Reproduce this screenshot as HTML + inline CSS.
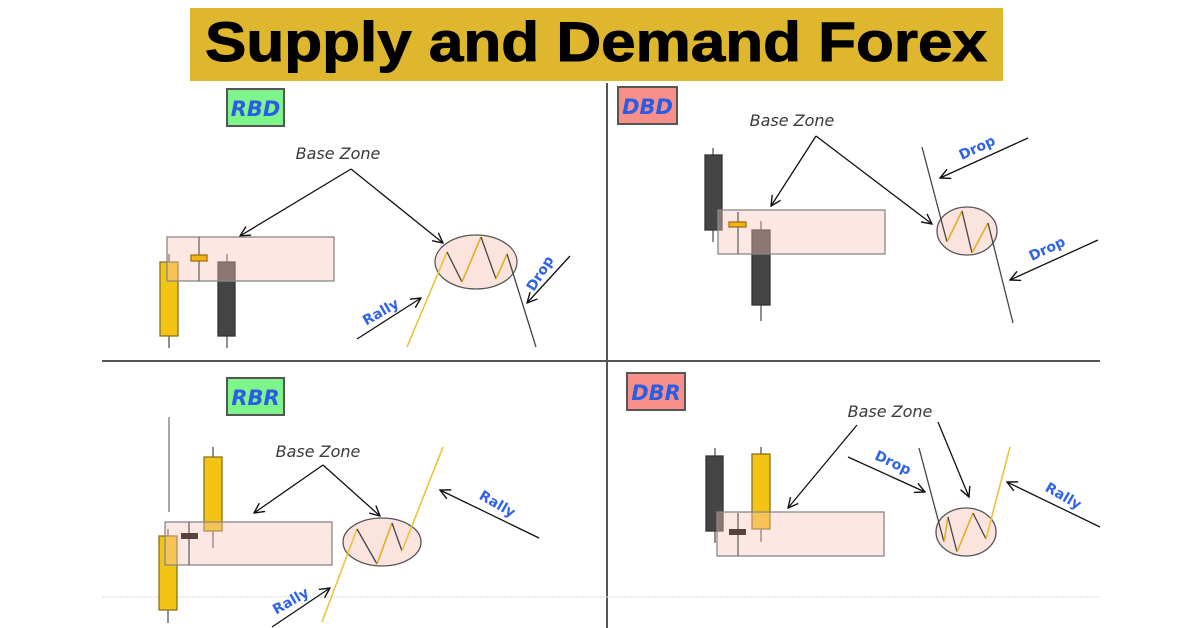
<!DOCTYPE html>
<html><head><meta charset="utf-8"><style>
html,body{margin:0;padding:0;background:#fff;width:1200px;height:628px;overflow:hidden}
svg{display:block}
.bz{font-family:"DejaVu Sans","Liberation Sans",sans-serif;font-style:oblique;font-size:16px;fill:#3a3a3a}
.lb{font-family:"DejaVu Sans","Liberation Sans",sans-serif;font-style:oblique;font-weight:bold;font-size:21px;fill:#2b5ce6}
.bl{font-family:"DejaVu Sans","Liberation Sans",sans-serif;font-weight:bold;font-size:14px;fill:#2f64e8}
</style></head><body>
<svg width="1200" height="628" viewBox="0 0 1200 628" xmlns="http://www.w3.org/2000/svg">
<defs>
<marker id="a" viewBox="0 0 12 12" refX="11" refY="6" markerWidth="12" markerHeight="12" markerUnits="userSpaceOnUse" orient="auto">
<polyline points="1,1 11,6 1,11" fill="none" stroke="#111" stroke-width="1.4"/>
</marker>
</defs>
<rect x="190" y="8" width="813" height="73" fill="#dfb72f"/>
<text x="205" y="61" font-family="Liberation Sans,Arial,sans-serif" font-weight="bold" font-size="56" textLength="782" lengthAdjust="spacingAndGlyphs" fill="#000" stroke="#000" stroke-width="1">Supply and Demand Forex</text>

<line x1="102" y1="361" x2="1100" y2="361" stroke="#555" stroke-width="2"/>
<line x1="607" y1="83" x2="607" y2="628" stroke="#555" stroke-width="2"/>
<line x1="102" y1="597" x2="1100" y2="597" stroke="#cfd8d8" stroke-width="1" stroke-dasharray="2,1"/>

<g stroke-width="1.3">
<!-- RBD -->
<rect x="227" y="89" width="57" height="37" fill="#7ef58a" stroke="#555" stroke-width="2"/>
<text x="255.5" y="116" class="lb" text-anchor="middle">RBD</text>
<text x="338" y="159" class="bz" text-anchor="middle">Base Zone</text>
<line x1="351" y1="169" x2="240" y2="236" stroke="#111" marker-end="url(#a)"/>
<line x1="351" y1="169" x2="443" y2="243" stroke="#111" marker-end="url(#a)"/>
<line x1="169" y1="254" x2="169" y2="348" stroke="#555"/>
<rect x="160" y="262" width="18" height="74" fill="#f3c414" stroke="#8a7020"/>
<line x1="227" y1="254" x2="227" y2="348" stroke="#555"/>
<rect x="218" y="262" width="17" height="74" fill="#454545" stroke="#333"/>
<rect x="167" y="237" width="167" height="44" fill="rgba(248,195,185,0.4)" stroke="#888"/>
<line x1="199" y1="237" x2="199" y2="281" stroke="#666"/>
<rect x="191" y="255" width="16" height="6" fill="#f3b414" stroke="#a07010"/>
<ellipse cx="476" cy="262" rx="41" ry="27" fill="#fbe3de" stroke="#555"/>
<polyline points="407,347 447,252" fill="none" stroke="#e8c43a" stroke-width="1.6"/>
<line x1="447" y1="252" x2="462" y2="282" stroke="#444"/>
<line x1="462" y1="282" x2="481" y2="237" stroke="#e0b020" stroke-width="1.6"/>
<line x1="481" y1="237" x2="496" y2="279" stroke="#444"/>
<line x1="496" y1="279" x2="507" y2="254" stroke="#e0b020" stroke-width="1.6"/>
<line x1="507" y1="254" x2="536" y2="347" stroke="#444"/>
<text class="bl" transform="translate(383,316) rotate(-30)" text-anchor="middle">Rally</text>
<line x1="357" y1="339" x2="421" y2="298" stroke="#111" marker-end="url(#a)"/>
<text class="bl" transform="translate(544,276) rotate(-58)" text-anchor="middle">Drop</text>
<line x1="570" y1="256" x2="527" y2="303" stroke="#111" marker-end="url(#a)"/>

<!-- DBD -->
<rect x="618" y="87" width="59" height="37" fill="#f79088" stroke="#555" stroke-width="2"/>
<text x="647.5" y="114" class="lb" text-anchor="middle">DBD</text>
<text x="792" y="126" class="bz" text-anchor="middle">Base Zone</text>
<line x1="816" y1="136" x2="771" y2="206" stroke="#111" marker-end="url(#a)"/>
<line x1="816" y1="136" x2="932" y2="224" stroke="#111" marker-end="url(#a)"/>
<line x1="713" y1="148" x2="713" y2="242" stroke="#555"/>
<rect x="705" y="155" width="17" height="75" fill="#454545" stroke="#333"/>
<line x1="761" y1="221" x2="761" y2="321" stroke="#555"/>
<rect x="752" y="230" width="18" height="75" fill="#454545" stroke="#333"/>
<rect x="718" y="210" width="167" height="44" fill="rgba(248,195,185,0.4)" stroke="#888"/>
<line x1="738" y1="212" x2="738" y2="254" stroke="#666"/>
<rect x="729" y="222" width="17" height="5" fill="#f3b414" stroke="#a07010"/>
<ellipse cx="967" cy="231" rx="30" ry="24" fill="#fbe3de" stroke="#555"/>
<line x1="922" y1="147" x2="947" y2="242" stroke="#444"/>
<line x1="947" y1="242" x2="962" y2="211" stroke="#e0b020" stroke-width="1.6"/>
<line x1="962" y1="211" x2="972" y2="253" stroke="#444"/>
<line x1="972" y1="253" x2="988" y2="223" stroke="#e0b020" stroke-width="1.6"/>
<line x1="988" y1="223" x2="1013" y2="323" stroke="#444"/>
<text class="bl" transform="translate(979,152) rotate(-25)" text-anchor="middle">Drop</text>
<line x1="1028" y1="138" x2="940" y2="178" stroke="#111" marker-end="url(#a)"/>
<text class="bl" transform="translate(1049,253) rotate(-25)" text-anchor="middle">Drop</text>
<line x1="1098" y1="240" x2="1010" y2="280" stroke="#111" marker-end="url(#a)"/>

<!-- RBR -->
<rect x="227" y="378" width="57" height="37" fill="#7ef58a" stroke="#555" stroke-width="2"/>
<text x="255.5" y="405" class="lb" text-anchor="middle">RBR</text>
<text x="318" y="457" class="bz" text-anchor="middle">Base Zone</text>
<line x1="323" y1="465" x2="254" y2="513" stroke="#111" marker-end="url(#a)"/>
<line x1="323" y1="465" x2="380" y2="516" stroke="#111" marker-end="url(#a)"/>
<line x1="169" y1="417" x2="169" y2="512" stroke="#777"/>
<line x1="168" y1="529" x2="168" y2="623" stroke="#555"/>
<rect x="159" y="536" width="18" height="74" fill="#f3c414" stroke="#8a7020"/>
<line x1="213" y1="447" x2="213" y2="548" stroke="#555"/>
<rect x="204" y="457" width="18" height="74" fill="#f3c414" stroke="#8a7020"/>
<rect x="165" y="522" width="167" height="43" fill="rgba(248,195,185,0.4)" stroke="#888"/>
<line x1="189" y1="522" x2="189" y2="565" stroke="#666"/>
<rect x="181" y="533" width="17" height="6" fill="#5a4040"/>
<ellipse cx="382" cy="542" rx="39" ry="24" fill="#fbe3de" stroke="#555"/>
<line x1="322" y1="622" x2="357" y2="529" stroke="#e8c43a" stroke-width="1.6"/>
<line x1="357" y1="529" x2="377" y2="564" stroke="#444"/>
<line x1="377" y1="564" x2="392" y2="523" stroke="#e0b020" stroke-width="1.6"/>
<line x1="392" y1="523" x2="402" y2="551" stroke="#444"/>
<line x1="402" y1="551" x2="443" y2="447" stroke="#e8c43a" stroke-width="1.6"/>
<text class="bl" transform="translate(495,508) rotate(30)" text-anchor="middle">Rally</text>
<line x1="539" y1="538" x2="440" y2="490" stroke="#111" marker-end="url(#a)"/>
<text class="bl" transform="translate(293,605) rotate(-30)" text-anchor="middle">Rally</text>
<line x1="272" y1="627" x2="330" y2="588" stroke="#111" marker-end="url(#a)"/>

<!-- DBR -->
<rect x="627" y="373" width="58" height="37" fill="#f79088" stroke="#555" stroke-width="2"/>
<text x="656" y="400" class="lb" text-anchor="middle">DBR</text>
<text x="890" y="417" class="bz" text-anchor="middle">Base Zone</text>
<line x1="857" y1="425" x2="788" y2="508" stroke="#111" marker-end="url(#a)"/>
<line x1="938" y1="422" x2="969" y2="497" stroke="#111" marker-end="url(#a)"/>
<line x1="715" y1="448" x2="715" y2="543" stroke="#555"/>
<rect x="706" y="456" width="17" height="75" fill="#454545" stroke="#333"/>
<line x1="761" y1="447" x2="761" y2="542" stroke="#555"/>
<rect x="752" y="454" width="18" height="75" fill="#f3c414" stroke="#8a7020"/>
<rect x="717" y="512" width="167" height="44" fill="rgba(248,195,185,0.4)" stroke="#888"/>
<line x1="738" y1="513" x2="738" y2="556" stroke="#666"/>
<rect x="729" y="529" width="17" height="6" fill="#5a4040"/>
<ellipse cx="966" cy="532" rx="30" ry="24" fill="#fbe3de" stroke="#555"/>
<line x1="919" y1="448" x2="944" y2="542" stroke="#444"/>
<line x1="944" y1="542" x2="948" y2="517" stroke="#e0b020" stroke-width="1.6"/>
<line x1="948" y1="517" x2="957" y2="552" stroke="#444"/>
<line x1="957" y1="552" x2="973" y2="513" stroke="#e0b020" stroke-width="1.6"/>
<line x1="973" y1="513" x2="986" y2="539" stroke="#444"/>
<line x1="986" y1="539" x2="1010" y2="447" stroke="#e8c43a" stroke-width="1.6"/>
<text class="bl" transform="translate(891,467) rotate(25)" text-anchor="middle">Drop</text>
<line x1="848" y1="457" x2="925" y2="492" stroke="#111" marker-end="url(#a)"/>
<text class="bl" transform="translate(1061,500) rotate(30)" text-anchor="middle">Rally</text>
<line x1="1100" y1="527" x2="1007" y2="482" stroke="#111" marker-end="url(#a)"/>
</g>
</svg>
</body></html>
